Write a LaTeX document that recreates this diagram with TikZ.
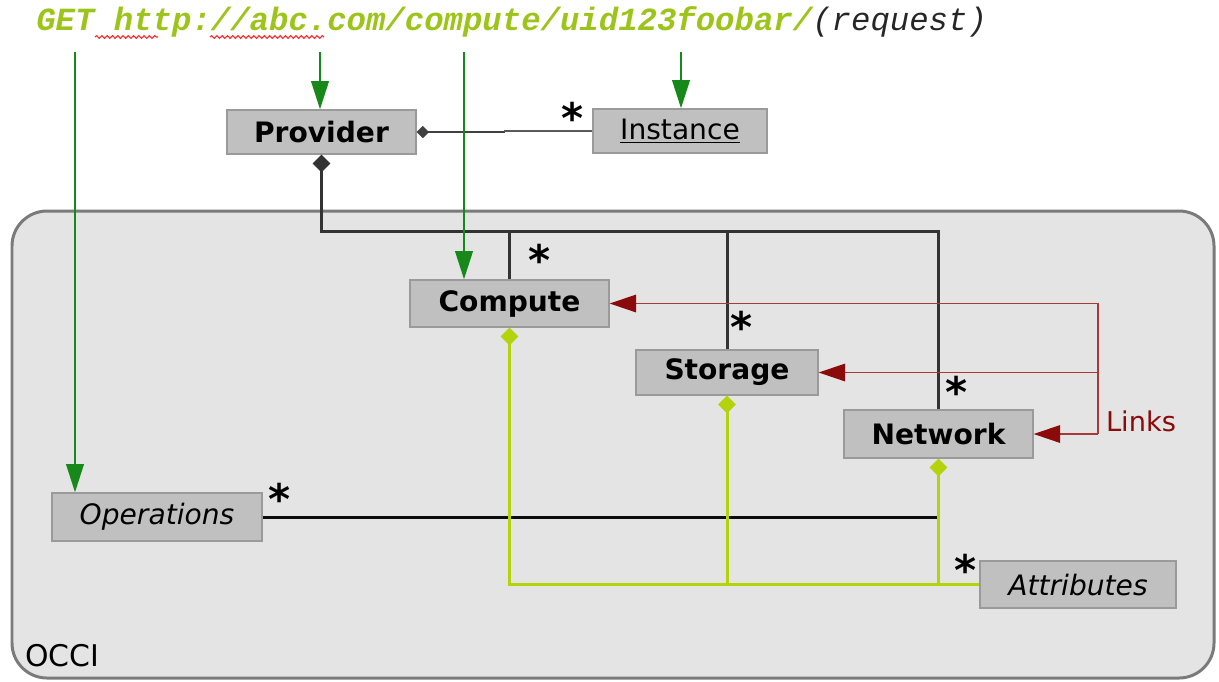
\documentclass[tikz,border=0pt]{standalone}
\usepackage{fontspec}
\setmainfont{DejaVu Sans}
\newfontfamily\monofam{Liberation Mono}
\usetikzlibrary{arrows.meta,decorations.pathmorphing}
\definecolor{boxgray}{HTML}{C0C0C0}
\definecolor{boxedge}{HTML}{9A9A9A}
\definecolor{occibg}{HTML}{E4E4E4}
\definecolor{occiedge}{HTML}{7A7A7A}
\definecolor{urlgreen}{HTML}{9DC41A}
\definecolor{reqgreen}{HTML}{17891A}
\definecolor{linkred}{HTML}{8B0A0A}
\definecolor{linkline}{HTML}{A83A3A}
\definecolor{attrgreen}{HTML}{B5D30A}

\begin{document}
\begin{tikzpicture}[x=0.02cm,y=-0.02cm,
    cls/.style={draw=boxedge,fill=boxgray,line width=0.8pt,inner sep=0pt,
      font=\fontsize{16}{19}\selectfont},
    mult/.style={inner sep=0pt,font=\fontsize{24}{24}\selectfont\bfseries},
    owns/.style={draw=black!80,line width=1.7pt},
    assoc/.style={draw=black!75,line width=1.1pt},
    req/.style={draw=reqgreen,line width=1.1pt,-{Triangle[length=16pt,width=10pt]}},
    links/.style={draw=linkline,line width=0.7pt,-{Triangle[length=15pt,width=10pt,color=linkred]}},
    attr/.style={draw=attrgreen,line width=1.7pt},
    spell/.style={draw=red!85,line width=0.6pt,decorate,
      decoration={snake,segment length=3pt,amplitude=0.8pt}}]
	\useasboundingbox (0,0) rectangle (1219,681);

	\draw[fill=occibg,draw=occiedge,line width=1.7pt,rounded corners=0.7cm] (12,211) rectangle (1214,678);
	\node[font=\fontsize{17}{20}\selectfont,anchor=base west,inner sep=0pt] (occi) at (25,666) {OCCI};

	\node[anchor=base west,inner sep=0pt,font=\fontsize{18.4}{20}\monofam\itshape] (url) at (36,30)
	  {{\color{urlgreen}\bfseries GET http://abc.com/compute/uid123foobar/}{\color{black!85}(request)}};
	\draw[spell] (95,37) -- (158,37);
	\draw[spell] (210,37) -- (324,37);

	\node[cls,minimum width=3.78cm,minimum height=0.88cm,font=\fontsize{16}{19}\selectfont\bfseries] (provider) at (321.5,132) {Provider};
	\node[cls,minimum width=3.48cm,minimum height=0.88cm] (instance) at (680,131) {\underline{Instance}};
	\node[cls,minimum width=3.98cm,minimum height=0.94cm,font=\fontsize{16}{19}\selectfont\bfseries] (compute) at (509.5,303.5) {Compute};
	\node[cls,minimum width=3.64cm,minimum height=0.9cm,font=\fontsize{16}{19}\selectfont\bfseries] (storage) at (727,372.5) {Storage};
	\node[cls,minimum width=3.78cm,minimum height=0.96cm,font=\fontsize{16}{19}\selectfont\bfseries] (network) at (938.5,434) {Network};
	\node[cls,minimum width=4.2cm,minimum height=0.96cm,font=\fontsize{16}{19}\selectfont\itshape] (operations) at (157,517) {Operations};
	\node[cls,minimum width=3.92cm,minimum height=0.94cm,font=\fontsize{16}{19}\selectfont\itshape] (attributes) at (1078,584.5) {Attributes};
	\node[text=linkred,font=\fontsize{15.5}{18}\selectfont,inner sep=0pt] (linkslabel) at (1141,421) {Links};

	\node[mult] (mi) at (573,118) {*};
	\node[mult] (mc) at (540,260) {*};
	\node[mult] (ms) at (742,327) {*};
	\node[mult] (mn) at (957,392) {*};
	\node[mult] (mo) at (280,499) {*};
	\node[mult] (ma) at (966,570) {*};

	\coordinate (jog) at (505,132);
	\draw[assoc,{Diamond[length=7pt,width=7pt]}-] (provider.east) -- (jog);
	\draw[draw=black!65,line width=0.6pt] (jog) -- ++(0,-1) -- (instance.west);

	\coordinate (bus) at (0,231);
	\draw[owns,{Diamond[length=10pt,width=10pt]}-] (provider.south) -- (provider.south |- bus) -| (network.north);
	\draw[owns] (compute.north) -- (compute.north |- bus);
	\draw[owns] (storage.north) -- (storage.north |- bus);

	\draw[owns,draw=black!95] (operations.east) -- (operations.east -| network.south);

	\coordinate (r1) at (75,52);
	\coordinate (r2) at (320,52);
	\coordinate (r3) at (464,52);
	\coordinate (r4) at (681,52);
	\draw[req] (r1) -- (r1 |- operations.north);
	\draw[req] (r2) -- (r2 |- provider.north);
	\draw[req] (r3) -- (r3 |- compute.north);
	\draw[req] (r4) -- (r4 |- instance.north);

	\coordinate (lnk) at (1098,434);
	\draw[links] (lnk) -- (network.east);
	\draw[links] (lnk) |- (compute.east);
	\draw[links] (lnk |- storage.east) -- (storage.east);

	\draw[attr,{Diamond[length=10pt,width=10pt]}-] (compute.south) |- (attributes.west);
	\draw[attr,{Diamond[length=10pt,width=10pt]}-] (storage.south) -- (storage.south |- attributes.west);
	\draw[attr,{Diamond[length=10pt,width=10pt]}-] (network.south) -- (network.south |- attributes.west);
\end{tikzpicture}
\end{document}
